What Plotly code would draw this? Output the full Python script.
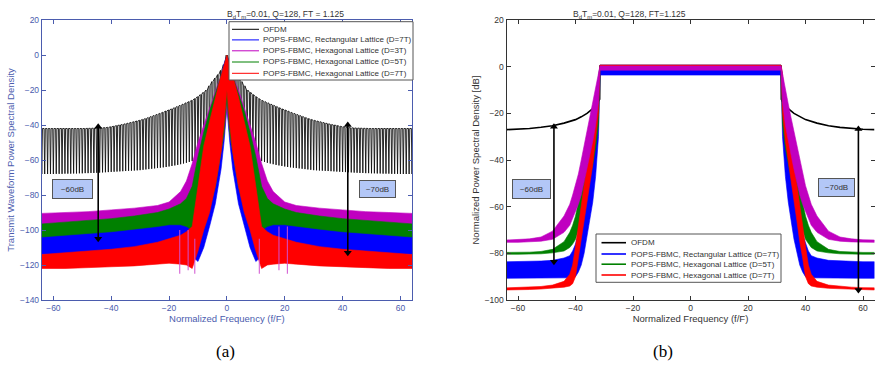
import plotly.graph_objects as go

# ---------------- data : panel (a) ----------------
# OFDM envelope, one value per unit of f/F for f = 0..64 (spectrum is symmetric)
ofdm_a_up_half = [0, -5.5, -8.8, -11.2, -13.2, -15.2, -17.6, -20, -21.3, -22.6, -23.8, -24.9, -25.9,
                  -26.6, -27.3, -28, -28.7, -29.4, -30.1, -30.8, -31.4, -32, -32.7, -33.3, -33.9,
                  -34.5, -35.1, -35.7, -36.3, -36.8, -37.3, -37.7, -38.1, -38.5, -38.9, -39.3, -39.7,
                  -40, -40.3, -40.7, -41, -41.3, -41.5, -41.6, -41.7, -41.8, -41.8, -41.9, -41.9,
                  -42, -42, -42, -42, -42, -42, -42, -42, -42, -42, -42, -42, -42, -42, -42, -42]
ofdm_a_lo_half = [-20, -35, -42, -47, -50, -53, -55, -56.5, -57.5, -58.5, -59.3, -60, -60.6, -61.1,
                  -61.6, -62, -62.4, -62.8, -63.1, -63.4, -63.7, -64, -64.2, -64.4, -64.6, -64.8,
                  -65, -65.2, -65.4, -65.6, -65.8, -65.9, -66, -66.1, -66.2, -66.3, -66.4, -66.5,
                  -66.6, -66.7, -66.8, -66.9, -67, -67.1, -67.2, -67.3, -67.4, -67.4, -67.5, -67.5,
                  -67.6, -67.6, -67.7, -67.7, -67.8, -67.8, -67.8, -67.9, -67.9, -67.9, -68, -68,
                  -68, -68, -68]
f_unit_half = list(range(0, 65))

f_a_half = [0, 1, 2, 3, 4, 6, 8, 10, 12, 14, 16, 20, 24, 32, 40, 48, 56, 64]
rect_a_up = [0, -5, -12, -20, -27, -40, -52, -70, -90, -93, -94, -95, -97, -99, -100.5, -101.5, -102.5, -103]
rect_a_lo = [-30, -50, -65, -75, -85, -98, -110, -118, -115, -112, -111, -110, -110.5, -111.5, -112.5, -113, -113.5, -114]
hex3_a_up = [-2, -8, -12, -16, -20, -30, -40, -50, -62, -72, -78, -84, -86, -87.5, -88.5, -89.5, -90, -90.5]
hex3_a_lo = [-30, -45, -55, -65, -75, -85, -95, -100, -95, -92, -90, -90, -91, -93, -94.5, -95.5, -96.5, -97]
hex5_a_up = [0, -7, -12, -17, -22, -32, -44, -58, -75, -82, -85, -88, -90, -92, -93.5, -94.5, -95.5, -96.5]
hex5_a_lo = [-25, -45, -55, -65, -75, -88, -98, -105, -100, -98, -97, -97, -98, -99.5, -101, -102, -103, -104]
hex7_a_up = [0, -6, -12, -18, -24, -38, -52, -75, -98, -101, -103, -105, -107, -109.5, -111, -112, -113, -114]
hex7_a_lo = [-20, -40, -55, -65, -75, -90, -100, -112, -122, -120, -119.5, -119, -119.5, -120.5, -121, -121.5, -122, -122]
spike_f_a = [-16.3, -13.4, -11.1, 11.2, 18.0, 20.9]
spike_top_a = [-100, -100, -105, -105, -98, -98]
spike_lo_a = [-125, -123, -125, -125, -123, -125]

# ---------------- data : panel (b) ----------------
f_b_ofdm_half = [0, 31.5, 31.6, 32, 33, 34, 36, 38, 40, 44, 48, 52, 56, 60, 64]
ofdm_b_half = [0, 0, -14, -15, -16.5, -18, -20, -21.5, -22.7, -24.2, -25.3, -26, -26.5, -26.8, -27]

f_b_half = [0, 31.5, 32, 33, 34, 35, 36, 37, 38, 39, 40, 41, 42, 44, 48, 52, 56, 60, 64]
rect_b_up = [0.7, 0.7, -5, -18, -30, -42, -52, -60, -67, -72, -76, -79, -81, -82, -83, -83.3, -83.5, -83.6, -83.6]
rect_b_lo = [-3.6, -3.6, -30, -47, -58, -66, -74, -80, -85, -88, -90, -90.5, -90.5, -90.5, -90.7, -90.7, -90.7, -90.7, -90.7]
hex5_b_up = [0.6, 0.6, -5, -15, -22, -30, -38, -45, -52, -58, -64, -68, -71, -75, -78.3, -79.2, -79.5, -79.6, -79.6]
hex5_b_lo = [-0.8, -0.8, -25, -35, -42, -48, -54, -60, -65, -70, -74, -76, -77.5, -79, -79.8, -80.2, -80.4, -80.4, -80.4]
hex7_b_up = [0.7, 0.7, -3, -18, -25, -35, -42, -50, -58, -68, -77, -85, -89, -92, -93.6, -94.2, -94.5, -94.7, -94.8]
hex7_b_lo = [-0.5, -0.5, -20, -32, -42, -50, -58, -66, -75, -82, -90, -93, -94, -94.5, -95, -95.3, -95.5, -95.6, -95.7]
hex3_b_up = [0.3, 0.3, -3, -10, -16, -22, -28, -34, -40, -46, -51, -55, -59, -64, -70.5, -73, -73.8, -74.2, -74.3]
hex3_b_lo = [-1.5, -1.5, -15, -25, -32, -38, -44, -50, -55, -59, -62, -65, -68, -71, -74, -74.8, -75.1, -75.3, -75.3]

legend_names_a = ["OFDM", "POPS-FBMC, Rectangular Lattice (D=7T)", "POPS-FBMC, Hexagonal Lattice (D=3T)",
                  "POPS-FBMC, Hexagonal Lattice (D=5T)", "POPS-FBMC, Hexagonal Lattice (D=7T)"]
legend_names_b = ["OFDM", "POPS-FBMC, Rectangular Lattice (D=7T)", "POPS-FBMC, Hexagonal Lattice (D=5T)",
                  "POPS-FBMC, Hexagonal Lattice (D=7T)"]

# level-gap arrows: (panel, f, top dB, bottom dB)
gap_arrows = [("a", -44.5, -41, -105), ("a", 41.8, -40, -113),
              ("b", -47.5, -25.7, -83.6), ("b", 58.4, -26.7, -95.7)]

# ---------------- styles ----------------
C_OFDM = "#000000"
C_RECT = "#0000ff"
C_HEX3 = "#c000c0"
C_HEX5 = "#008000"
C_HEX7 = "#ff0000"
AX_A = "#4b5cae"
AX_B = "#333333"
FONT = "Liberation Sans, Arial, sans-serif"
W, H = 875, 381
AXES = {"a": ("x", "y"), "b": ("x2", "y2")}


def px(x):
    return x / W


def py(y):
    return 1 - y / H


def mirror(f_half, v_half):
    f = [-x for x in reversed(f_half[1:])] + list(f_half)
    v = list(reversed(v_half[1:])) + list(v_half)
    return f, v


def band(f_half, up_half, lo_half, color, xa, ya, name):
    f, up = mirror(f_half, up_half)
    _, lo = mirror(f_half, lo_half)
    return go.Scatter(x=f + f[::-1], y=up + lo[::-1], fill="toself", fillcolor=color, name=name,
                      mode="lines", line=dict(color=color, width=0.6), showlegend=False,
                      hoverinfo="skip", xaxis=xa, yaxis=ya)


fig = go.Figure()

# ---- panel (a) OFDM: narrow nulls at every unit of f/F ----
fa, upa = mirror(f_unit_half, ofdm_a_up_half)
_, loa = mirror(f_unit_half, ofdm_a_lo_half)
tx, ty = [], []
for f, u, l in zip(fa, upa, loa):
    tx += [f - 0.22, f, f + 0.22]
    ty += [u, l, u]
fig.add_trace(go.Scatter(x=tx, y=ty, mode="lines", line=dict(color="#111111", width=0.9),
                         name=legend_names_a[0], showlegend=False, hoverinfo="skip", xaxis="x", yaxis="y"))

fig.add_trace(band(f_a_half, rect_a_up, rect_a_lo, C_RECT, "x", "y", legend_names_a[1]))
fig.add_trace(band(f_a_half, hex3_a_up, hex3_a_lo, C_HEX3, "x", "y", legend_names_a[2]))
fig.add_trace(band(f_a_half, hex5_a_up, hex5_a_lo, C_HEX5, "x", "y", legend_names_a[3]))
fig.add_trace(band(f_a_half, hex7_a_up, hex7_a_lo, C_HEX7, "x", "y", legend_names_a[4]))

sx, sy = [], []
for f, t, l in zip(spike_f_a, spike_top_a, spike_lo_a):
    sx += [f, f, None]
    sy += [t, l, None]
fig.add_trace(go.Scatter(x=sx, y=sy, mode="lines", line=dict(color="#d050d0", width=1),
                         showlegend=False, hoverinfo="skip", xaxis="x", yaxis="y"))

# ---- panel (b) ----
fb, vb = mirror(f_b_ofdm_half, ofdm_b_half)
fig.add_trace(go.Scatter(x=fb, y=vb, mode="lines", line=dict(color=C_OFDM, width=1.6), name=legend_names_b[0],
                         showlegend=False, hoverinfo="skip", xaxis="x2", yaxis="y2"))
fig.add_trace(band(f_b_half, rect_b_up, rect_b_lo, C_RECT, "x2", "y2", legend_names_b[1]))
fig.add_trace(band(f_b_half, hex5_b_up, hex5_b_lo, C_HEX5, "x2", "y2", legend_names_b[2]))
fig.add_trace(band(f_b_half, hex7_b_up, hex7_b_lo, C_HEX7, "x2", "y2", legend_names_b[3]))
fig.add_trace(band(f_b_half, hex3_b_up, hex3_b_lo, C_HEX3, "x2", "y2", "POPS-FBMC, Hexagonal Lattice (D=3T)"))

# ---- double-headed arrows ----
for panel, f, top, bot in gap_arrows:
    xr, yr = AXES[panel]
    fig.add_trace(go.Scatter(x=[f, f], y=[top, bot], mode="lines+markers", xaxis=xr, yaxis=yr,
                             line=dict(color="#000", width=1.6),
                             marker=dict(symbol=["triangle-up", "triangle-down"], size=7, color="#000"),
                             showlegend=False, hoverinfo="skip"))


def axis(color, domain, rng, anchor, title):
    return dict(domain=domain, range=rng, anchor=anchor, showgrid=False, zeroline=False,
                showline=True, linecolor=color, linewidth=1, mirror="ticks", ticks="inside",
                ticklen=4, tickcolor=color, tickfont=dict(family=FONT, size=8.5, color=color),
                title=dict(text=title, font=dict(family=FONT, size=9.5, color=color), standoff=3),
                automargin=False)


xa = axis(AX_A, [px(41.8), px(412)], [-64, 64], "y", "Normalized Frequency (f/F)")
xa["tickvals"] = [-60, -40, -20, 0, 20, 40, 60]
ya = axis(AX_A, [py(300), py(20)], [-140, 20], "x", "Transmit Waveform Power Spectral Density")
ya["dtick"] = 20
xb = axis(AX_B, [px(506.5), px(874.5)], [-64, 64], "y2", "Normalized Frequency (f/F)")
xb["tickvals"] = [-60, -40, -20, 0, 20, 40, 60]
yb = axis(AX_B, [py(300), py(20)], [-100, 20], "x2", "Normalized Power Spectral Density [dB]")
yb["dtick"] = 20

annotations = [
    dict(text="B<sub>d</sub>T<sub>m</sub>=0.01, Q=128, FT = 1.125", x=px(225), y=py(7),
         xref="paper", yref="paper", showarrow=False, font=dict(family=FONT, size=8.5, color="#333")),
    dict(text="B<sub>d</sub>T<sub>m</sub>=0.01, Q=128, FT=1.125", x=px(688), y=py(7),
         xref="paper", yref="paper", showarrow=False, font=dict(family=FONT, size=8.5, color="#333")),
    dict(text="(a)", x=px(214), y=py(363), xref="paper", yref="paper", showarrow=False,
         font=dict(family="Liberation Serif, Times New Roman, serif", size=17, color="#000")),
    dict(text="(b)", x=px(675), y=py(363), xref="paper", yref="paper", showarrow=False,
         font=dict(family="Liberation Serif, Times New Roman, serif", size=17, color="#000")),
]

boxes = [("x", "y", -53.4, -76.8, "~60dB", 37, 16), ("x", "y", 51.9, -76.4, "~70dB", 33, 14),
         ("x2", "y2", -55.3, -52.6, "~60dB", 35, 16), ("x2", "y2", 50.9, -51.8, "~70dB", 33, 15)]
for xr, yr, xv, yv, t, w, h in boxes:
    annotations.append(dict(x=xv, y=yv, xref=xr, yref=yr, text=t, showarrow=False, width=w, height=h,
                            bgcolor="#b3c7f7", bordercolor="#555", borderwidth=1, borderpad=1,
                            font=dict(family=FONT, size=8, color="#333")))

# ---- compact legends (MATLAB-style boxes) ----
shapes = []
legend_a = dict(box=(229, 21.7, 413, 80), rows=[29.3, 39.9, 50.8, 62, 73.3], line=(232, 259), text_x=261,
                names=legend_names_a, colors=[C_OFDM, C_RECT, C_HEX3, C_HEX5, C_HEX7], lw=1)
legend_b = dict(box=(596, 234, 781, 282.3), rows=[242.7, 254, 264.2, 275], line=(601.5, 626), text_x=628.5,
                names=legend_names_b, colors=[C_OFDM, C_RECT, C_HEX5, C_HEX7], lw=1.6)
for lg in (legend_a, legend_b):
    x0, y0, x1, y1 = lg["box"]
    shapes.append(dict(type="rect", xref="paper", yref="paper", x0=px(x0), x1=px(x1), y0=py(y1), y1=py(y0),
                       fillcolor="white", line=dict(color="#555", width=1), layer="above"))
    for yy, name, col in zip(lg["rows"], lg["names"], lg["colors"]):
        shapes.append(dict(type="line", xref="paper", yref="paper", x0=px(lg["line"][0]), x1=px(lg["line"][1]),
                           y0=py(yy), y1=py(yy), line=dict(color=col, width=lg["lw"]), layer="above"))
        annotations.append(dict(text=name, x=px(lg["text_x"]), y=py(yy), xref="paper", yref="paper",
                                xanchor="left", yanchor="middle", showarrow=False,
                                font=dict(family=FONT, size=8, color="#333")))

fig.update_layout(
    width=W, height=H, margin=dict(l=0, r=0, t=0, b=0),
    paper_bgcolor="white", plot_bgcolor="white",
    xaxis=xa, yaxis=ya, xaxis2=xb, yaxis2=yb,
    annotations=annotations, shapes=shapes,
    showlegend=False,
)

fig.write_html("out.html", config={"displayModeBar": False},
               post_script="document.body.style.margin='0px';document.body.style.overflow='hidden';")
